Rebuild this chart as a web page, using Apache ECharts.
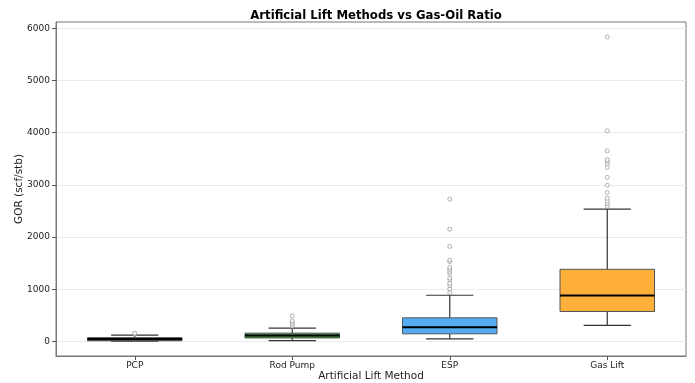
<!DOCTYPE html>
<html>
<head>
<meta charset="utf-8">
<script src="https://cdn.jsdelivr.net/npm/echarts@6/dist/echarts.min.js"></script>
<style>html,body{margin:0;padding:0;background:#fff}#c{width:695px;height:383px}</style>
</head>
<body>
<div id="c"></div>
<script>
var categories = ['PCP', 'Rod Pump', 'ESP', 'Gas Lift'];
// [lower whisker, Q1, median, Q3, upper whisker]
var boxStats = [
  [6, 12, 44, 72, 120],
  [15, 66, 112, 158, 254],
  [50, 145, 273, 451, 884],
  [306, 573, 879, 1381, 2533]
];
var boxColors = ['#1e1e1e', '#3f9a3f', '#55acf3', '#ffb03b'];
var outliersPCP = [140, 158];
var outliersRod = [292, 325, 363, 394, 489];
var outliersESP = [936, 1005, 1070, 1114, 1184, 1215, 1305, 1343, 1381, 1419, 1528, 1559, 1820, 2151, 2724];
var outliersGas = [2590, 2636, 2686, 2743, 2852, 2991, 3144, 3335, 3406, 3450, 3482, 3650, 4036, 5832];
var yTicks = [0, 1000, 2000, 3000, 4000, 5000, 6000];

var outlierLists = [outliersPCP, outliersRod, outliersESP, outliersGas];
var outlierData = [];
outlierLists.forEach(function (list, i) {
  list.forEach(function (v) { outlierData.push([i, v]); });
});
var boxData = boxStats.map(function (s, i) { return [i].concat(s); });

var font = 'DejaVu Sans';
var chart = echarts.init(document.getElementById('c'), null, { renderer: 'canvas' });
chart.setOption({
  animation: false,
  backgroundColor: '#fff',
  title: {
    text: 'Artificial Lift Methods vs Gas-Oil Ratio',
    left: 371, top: 5, textAlign: 'center',
    textStyle: { fontFamily: font, fontSize: 11.7, fontWeight: 'bold', color: '#000' }
  },
  grid: { left: 56, right: 9, top: 22, bottom: 27, containLabel: false, outerBoundsMode: 'none',
          show: true, borderColor: '#777', borderWidth: 1, backgroundColor: 'transparent' },
  xAxis: {
    type: 'category', data: categories, boundaryGap: true,
    name: 'Artificial Lift Method', nameLocation: 'middle', nameGap: 15, nameMoveOverlap: false,
    nameTextStyle: { fontFamily: font, fontSize: 10.5, color: '#222' },
    axisLine: { show: true, onZero: false, lineStyle: { color: '#777' } },
    axisTick: { show: true, alignWithLabel: true, length: 4, lineStyle: { color: '#555' } },
    axisLabel: { fontFamily: font, fontSize: 9, color: '#222', margin: 5 },
    splitLine: { show: false }
  },
  yAxis: {
    type: 'value', min: -280, max: 6120,
    name: 'GOR (scf/stb)', nameLocation: 'middle', nameGap: 31, nameMoveOverlap: false,
    nameTextStyle: { fontFamily: font, fontSize: 10.5, color: '#222' },
    axisLine: { show: true, lineStyle: { color: '#777' } },
    axisTick: { show: true, length: 4, customValues: yTicks, lineStyle: { color: '#555' } },
    axisLabel: { fontFamily: font, fontSize: 9, color: '#222', margin: 6, customValues: yTicks,
                 formatter: function (v) { return String(v); } },
    splitLine: { show: false }
  },
  series: [
    {
      type: 'scatter', data: [], silent: true, z: 0,
      markLine: {
        silent: true, symbol: 'none', label: { show: false }, z: 0,
        lineStyle: { color: '#ebebeb', width: 1, type: 'solid' },
        data: yTicks.map(function (t) { return { yAxis: t }; })
      }
    },
    {
      type: 'custom', z: 3,
      data: boxData,
      encode: { x: 0, y: [1, 2, 3, 4, 5] },
      renderItem: function (params, api) {
        var i = api.value(0);
        var band = api.size([1, 0])[0];
        var cx = api.coord([i, 0])[0];
        var hw = band * 0.3, cw = band * 0.15;
        var pLo = api.coord([i, api.value(1)])[1];
        var pQ1 = api.coord([i, api.value(2)])[1];
        var pMed = api.coord([i, api.value(3)])[1];
        var pQ3 = api.coord([i, api.value(4)])[1];
        var pHi = api.coord([i, api.value(5)])[1];
        var wl = { stroke: '#333', lineWidth: 1.2 };
        return {
          type: 'group',
          children: [
            { type: 'line', shape: { x1: cx, y1: pQ3, x2: cx, y2: pHi }, style: wl },
            { type: 'line', shape: { x1: cx, y1: pQ1, x2: cx, y2: pLo }, style: wl },
            { type: 'line', shape: { x1: cx - cw, y1: pHi, x2: cx + cw, y2: pHi }, style: wl },
            { type: 'line', shape: { x1: cx - cw, y1: pLo, x2: cx + cw, y2: pLo }, style: wl },
            { type: 'rect', shape: { x: cx - hw, y: pQ3, width: hw * 2, height: pQ1 - pQ3 },
              style: { fill: boxColors[i], stroke: '#555', lineWidth: 1 } },
            { type: 'line', shape: { x1: cx - hw, y1: pMed, x2: cx + hw, y2: pMed },
              style: { stroke: '#000', lineWidth: 2 } }
          ]
        };
      }
    },
    {
      type: 'scatter',
      data: outlierData,
      symbol: 'circle', symbolSize: 4,
      itemStyle: { color: '#fff', borderColor: '#888', borderWidth: 0.8 },
      z: 5
    }
  ]
});
</script>
</body>
</html>
